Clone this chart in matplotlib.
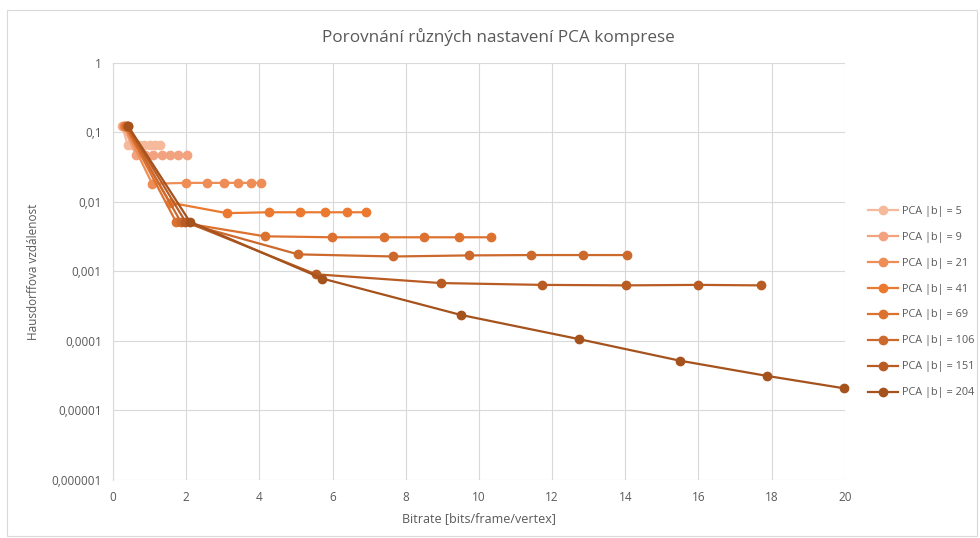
import matplotlib
matplotlib.use("Agg")
import matplotlib.pyplot as plt
from matplotlib.ticker import FixedLocator, FixedFormatter, NullLocator
from matplotlib.patches import Rectangle

plt.rcParams['font.family'] = ['Open Sans', 'DejaVu Sans']

labels = ["PCA |b| = 5", "PCA |b| = 9", "PCA |b| = 21", "PCA |b| = 41",
          "PCA |b| = 69", "PCA |b| = 106", "PCA |b| = 151", "PCA |b| = 204"]

x_b5 = [0.25, 0.40, 0.55, 0.70, 0.85, 1.00, 1.14, 1.28]
y_b5 = [0.122, 0.067, 0.067, 0.067, 0.067, 0.067, 0.067, 0.067]
x_b9 = [0.28, 0.63, 0.87, 1.09, 1.34, 1.56, 1.78, 2.02]
y_b9 = [0.122, 0.047, 0.047, 0.047, 0.047, 0.047, 0.047, 0.047]
x_b21 = [0.31, 1.07, 2.00, 2.57, 3.03, 3.42, 3.77, 4.04]
y_b21 = [0.122, 0.0183, 0.0188, 0.0188, 0.0188, 0.0188, 0.0188, 0.0188]
x_b41 = [0.33, 1.55, 3.11, 4.26, 5.11, 5.80, 6.39, 6.92]
y_b41 = [0.122, 0.0098, 0.0069, 0.0071, 0.0071, 0.0071, 0.0071, 0.0071]
x_b69 = [0.35, 1.72, 4.15, 5.99, 7.40, 8.51, 9.47, 10.32]
y_b69 = [0.122, 0.0052, 0.0032, 0.0031, 0.0031, 0.0031, 0.0031, 0.0031]
x_b106 = [0.37, 1.85, 5.06, 7.66, 9.73, 11.42, 12.84, 14.06]
y_b106 = [0.122, 0.0052, 0.00176, 0.00164, 0.0017, 0.00172, 0.00172, 0.00172]
x_b151 = [0.40, 1.98, 5.54, 8.96, 11.73, 14.03, 16.00, 17.70]
y_b151 = [0.122, 0.0052, 0.00091, 0.00068, 0.00064, 0.00063, 0.00064, 0.00063]
x_b204 = [0.42, 2.10, 5.72, 9.50, 12.74, 15.49, 17.87, 19.98]
y_b204 = [0.122, 0.0052, 0.00079, 0.000237, 0.000106, 0.000052, 0.0000314, 0.0000208]

xs = [x_b5, x_b9, x_b21, x_b41, x_b69, x_b106, x_b151, x_b204]
ys = [y_b5, y_b9, y_b21, y_b41, y_b69, y_b106, y_b151, y_b204]
colors = ["#F5B99C", "#F2A27F", "#EE8D55", "#EB7A30", "#DD7230", "#CC692C", "#B95C24", "#A5521D"]

xticks = [0, 2, 4, 6, 8, 10, 12, 14, 16, 18, 20]
yticks = [1e-6, 1e-5, 1e-4, 1e-3, 1e-2, 1e-1, 1]
ytick_labels = ["0,000001", "0,00001", "0,0001", "0,001", "0,01", "0,1", "1"]

fig = plt.figure(figsize=(9.8, 5.38), dpi=100)
fig.patches.append(Rectangle((0.007, 0.004), 0.99, 0.978, transform=fig.transFigure,
                             fill=False, edgecolor="#D9D9D9", linewidth=0.8))
ax = fig.add_axes([0.1153, 0.108, 0.862 - 0.1153, 0.883 - 0.108])

for x, y, c, lab in zip(xs, ys, colors, labels):
    ax.plot(x, y, color=c, marker='o', markersize=6, linewidth=1.6,
            label=lab, clip_on=False)

ax.set_yscale('log')
ax.set_xlim(0, 20)
ax.set_ylim(1e-6, 1)
ax.xaxis.set_major_locator(FixedLocator(xticks))
ax.yaxis.set_major_locator(FixedLocator(yticks))
ax.yaxis.set_major_formatter(FixedFormatter(ytick_labels))
ax.yaxis.set_minor_locator(NullLocator())
ax.grid(True, color="#D9D9D9", linewidth=0.8)
ax.set_axisbelow(True)
for s in ['top', 'right', 'bottom']:
    ax.spines[s].set_visible(False)
ax.spines['left'].set_color("#D9D9D9")
ax.tick_params(length=0, colors="#595959", labelsize=8.5, pad=8)

fig.text(498 / 980, 1 - 37 / 538, "Porovnání různých nastavení PCA komprese",
         color="#595959", fontsize=12.3, ha='center', va='center')
ax.set_xlabel("Bitrate [bits/frame/vertex]", color="#595959", fontsize=9, labelpad=6)
ax.set_ylabel("Hausdorffova vzdálenost", color="#595959", fontsize=8.5, labelpad=8)

leg = fig.legend(*ax.get_legend_handles_labels(), loc='center left',
                 bbox_to_anchor=(868 / 980, 1 - 302 / 538), frameon=False,
                 fontsize=7.8, labelcolor="#595959", handlelength=2.8,
                 handletextpad=0.35, labelspacing=1.38, borderpad=0, borderaxespad=0)

fig.savefig("out.png", dpi=100)
